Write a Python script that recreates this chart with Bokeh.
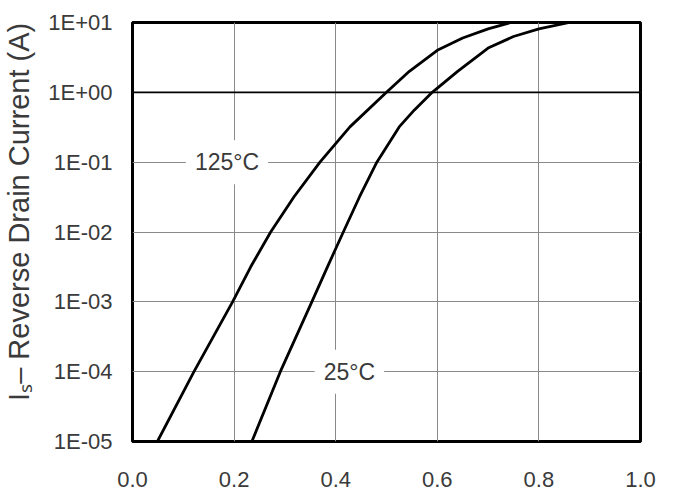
from bokeh.plotting import figure
from bokeh.models import Range1d, FixedTicker, CustomJSTickFormatter, Label, Span
from bokeh.embed import file_html
from bokeh.resources import INLINE

# Reverse drain current vs source-drain voltage
v_125 = [0.049, 0.121, 0.197, 0.233, 0.272, 0.318, 0.369, 0.428, 0.50, 0.545, 0.60, 0.65, 0.70, 0.745]
i_125 = [1e-5, 1e-4, 1e-3, 3.2e-3, 1e-2, 3.2e-2, 0.1, 0.32, 1.0, 2.0, 4.0, 6.0, 8.1, 10.0]
v_25 = [0.235, 0.291, 0.353, 0.384, 0.415, 0.447, 0.481, 0.525, 0.555, 0.59, 0.64, 0.70, 0.75, 0.80, 0.86]
i_25 = [1e-5, 1e-4, 1e-3, 3.2e-3, 1e-2, 3.2e-2, 0.1, 0.32, 0.56, 1.0, 2.0, 4.3, 6.3, 8.1, 10.0]

x_ticks = [0.0, 0.2, 0.4, 0.6, 0.8, 1.0]
x_tick_labels = ["0.0", "0.2", "0.4", "0.6", "0.8", "1.0"]
y_ticks = [1e-5, 1e-4, 1e-3, 1e-2, 1e-1, 1.0, 10.0]
y_tick_labels = ["1E-05", "1E-04", "1E-03", "1E-02", "1E-01", "1E+00", "1E+01"]
y_title = "Iₛ– Reverse Drain Current (A)"
curve_names = ["125°C", "25°C"]
curve_label_x = [0.186, 0.427]
curve_label_y = [0.1, 1e-4]

FONT = "Liberation Sans"
TXT = "#3a3a3a"

p = figure(width=673, height=490, x_range=Range1d(0, 1), y_range=Range1d(1e-5, 10),
           y_axis_type="log", output_backend="svg", toolbar_location=None,
           min_border_left=130, min_border_right=33, min_border_top=22, min_border_bottom=49)
p.background_fill_color = "white"
p.border_fill_color = "white"
p.outline_line_color = "black"
p.outline_line_width = 3

p.xaxis.ticker = FixedTicker(ticks=x_ticks)
p.yaxis.ticker = FixedTicker(ticks=y_ticks)
p.xaxis.formatter = CustomJSTickFormatter(args=dict(tvals=x_ticks, tlabels=x_tick_labels), code="""
const i = tvals.findIndex(t => Math.abs(t - tick) < 1e-9);
return i >= 0 ? tlabels[i] : '';
""")
p.yaxis.formatter = CustomJSTickFormatter(args=dict(tvals=y_ticks, tlabels=y_tick_labels), code="""
const i = tvals.findIndex(t => Math.abs(Math.log10(t) - Math.log10(tick)) < 1e-6);
return i >= 0 ? tlabels[i] : '';
""")
for ax in (p.xaxis, p.yaxis):
    ax.axis_line_color = None
    ax.major_tick_line_color = None
    ax.minor_tick_line_color = None
    ax.major_tick_out = 0
    ax.major_tick_in = 0
    ax.minor_tick_out = 0
    ax.major_label_text_font = FONT
    ax.major_label_text_font_size = "22px"
    ax.major_label_text_color = TXT
p.xaxis.major_label_standoff = 30
p.yaxis.major_label_standoff = 20

# Axis title (leading no-break spaces lift it slightly, as in the original)
p.yaxis.axis_label = "\u00a0" * 5 + y_title
p.yaxis.axis_label_text_font = FONT
p.yaxis.axis_label_text_font_size = "29px"
p.yaxis.axis_label_text_font_style = "normal"
p.yaxis.axis_label_text_color = TXT
p.yaxis.axis_label_standoff = 10

p.xgrid.grid_line_color = "#8a8a8a"
p.ygrid.grid_line_color = "#8a8a8a"
p.xgrid.grid_line_width = 1
p.ygrid.grid_line_width = 1

p.add_layout(Span(location=1.0, dimension="width", line_color="black", line_width=1.6))

p.line(v_125, i_125, line_color="black", line_width=2.8, line_join="round")
p.line(v_25, i_25, line_color="black", line_width=2.8, line_join="round")

for name, lx, ly in zip(curve_names, curve_label_x, curve_label_y):
    p.add_layout(Label(x=lx, y=ly, text=name, text_align="center", text_baseline="middle",
                       text_font=FONT, text_font_size="23px", text_color=TXT,
                       background_fill_color="white", padding=9))

open("out.html", "w").write(file_html(p, INLINE))
